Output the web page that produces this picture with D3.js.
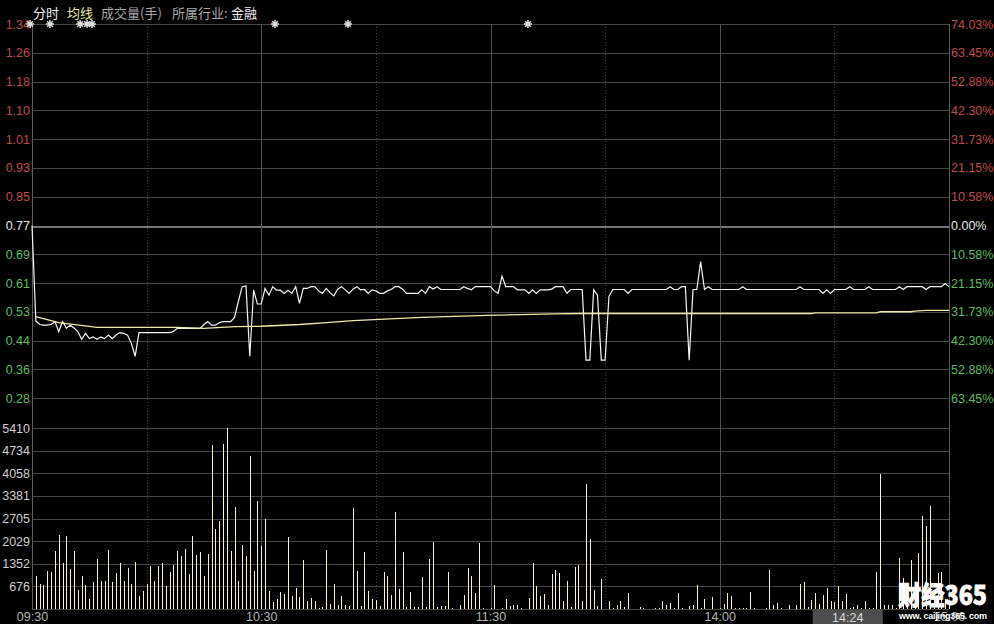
<!DOCTYPE html>
<html><head><meta charset="utf-8">
<script src="https://cdn.jsdelivr.net/npm/d3@7"></script>
<style>html,body{margin:0;padding:0;background:#000;overflow:hidden}</style>
</head><body>
<svg id="c" width="994" height="624"></svg>
<script>
// ---------- data ----------
const preClose = 0.77;
const priceTickLabels = ["1.34","1.26","1.18","1.10","1.01","0.93","0.85","0.77","0.69","0.61","0.53","0.44","0.36","0.28"];
const pctTicks = [74.03,63.45,52.88,42.30,31.73,21.15,10.58,0,-10.58,-21.15,-31.73,-42.30,-52.88,-63.45];
const pctTickLabels = ["74.03%","63.45%","52.88%","42.30%","31.73%","21.15%","10.58%","0.00%","10.58%","21.15%","31.73%","42.30%","52.88%","63.45%"];
const pctRange = 74.03;
const volTicks = [676,1352,2029,2705,3381,4058,4734,5410];
const volMax = 5410;
const timeTickMinutes = [0,60,120,180,240];
const timeTickLabels = ["09:30","10:30","11:30","14:00","15:00"];
const halfHourMinutes = [30,90,150,210];
const cursorLabel = "14:24";
const cursorMinute = 213.5;
const headerItems = ["分时","均线","成交量(手)","所属行业:","金融"];
const markerMinutes = [-0.5,4.7,12.6,14.4,15.7,63.6,82.7,129.8];

const price = [
0.77,0.50,0.49,0.488,0.488,0.49,0.498,0.47,0.498,0.48,
0.488,0.48,0.47,0.448,0.465,0.45,0.455,0.448,0.455,0.45,
0.46,0.45,0.46,0.467,0.465,0.46,0.437,0.40,0.467,0.467,
0.467,0.467,0.467,0.467,0.467,0.467,0.467,0.47,0.479,0.479,
0.479,0.479,0.479,0.479,0.479,0.49,0.498,0.488,0.488,0.495,
0.498,0.498,0.498,0.51,0.555,0.597,0.599,0.40,0.587,0.548,
0.548,0.592,0.573,0.597,0.587,0.587,0.578,0.587,0.578,0.597,
0.55,0.592,0.592,0.597,0.597,0.585,0.578,0.592,0.58,0.571,
0.59,0.597,0.588,0.578,0.59,0.597,0.588,0.589,0.578,0.588,
0.585,0.578,0.578,0.585,0.589,0.597,0.597,0.59,0.578,0.578,
0.578,0.578,0.588,0.578,0.597,0.59,0.597,0.589,0.589,0.589,
0.589,0.589,0.589,0.597,0.592,0.588,0.597,0.597,0.597,0.597,
0.597,0.585,0.578,0.627,0.597,0.597,0.597,0.588,0.588,0.588,
0.578,0.588,0.578,0.588,0.588,0.588,0.59,0.597,0.597,0.597,
0.578,0.589,0.589,0.589,0.589,0.389,0.389,0.588,0.573,0.389,
0.389,0.569,0.589,0.589,0.589,0.589,0.578,0.589,0.589,0.589,
0.589,0.589,0.589,0.589,0.589,0.589,0.589,0.597,0.589,0.589,
0.597,0.597,0.389,0.589,0.589,0.668,0.589,0.597,0.589,0.589,
0.589,0.589,0.589,0.589,0.589,0.589,0.597,0.589,0.589,0.589,
0.589,0.589,0.589,0.589,0.589,0.589,0.589,0.589,0.589,0.589,
0.589,0.597,0.589,0.589,0.589,0.589,0.589,0.578,0.588,0.578,
0.589,0.589,0.589,0.589,0.597,0.589,0.589,0.589,0.589,0.597,
0.589,0.589,0.589,0.589,0.589,0.589,0.589,0.597,0.589,0.597,
0.597,0.597,0.597,0.597,0.589,0.597,0.597,0.597,0.597,0.606,
0.597];

const avgMinutes = [1,7,17,38,45,53,60,70,78,84,102,119,137,144,162,204,205,221,222,230,231,234,240];
const avgPrice  = [0.512,0.495,0.482,0.482,0.479,0.484,0.485,0.490,0.496,0.501,0.510,0.516,0.520,0.521,0.521,0.521,0.523,0.523,0.526,0.526,0.528,0.530,0.530];

const volume = [
0,976,757,707,1146,1096,1743,2222,1375,2172,
1205,1743,578,976,707,309,797,1504,847,847,
1773,797,1066,1375,847,1235,737,1415,379,548,
737,1275,827,1275,1365,677,1116,1305,1743,1574,
1803,1056,2192,1604,1713,976,1654,4912,2401,2620,
4942,5410,1743,3049,847,1923,1594,4583,1146,3238,
1873,2700,548,199,309,508,448,2142,379,628,
349,1475,229,329,249,30,60,1773,159,757,
130,379,130,100,3019,1146,100,1713,548,309,
279,100,1106,996,428,2899,608,1713,70,518,
50,70,946,50,1504,2002,50,100,100,1106,
30,0,130,428,1235,996,478,1982,30,0,
30,707,0,30,309,80,130,130,30,0,
329,1375,677,379,458,110,1056,1176,1086,249,
847,50,1265,1305,229,3746,2102,578,80,907,
0,249,30,130,229,50,478,0,0,60,
30,0,0,20,30,229,110,189,30,488,
30,0,100,130,727,30,309,0,369,0,
30,159,488,379,30,20,20,20,518,30,
0,0,20,1176,110,169,30,0,130,0,
130,757,817,50,279,488,149,428,638,229,
199,697,249,438,30,50,130,30,249,30,
30,1096,4045,130,130,130,30,1514,927,200,
1475,500,1664,2770,2471,3089,400,1086,1116,300,
200];

// ---------- drawing ----------
const W = 994, H = 624;
const left = 32, right = 949;
const svg = d3.select("#c");
svg.append("rect").attr("width", W).attr("height", H).attr("fill", "#000");

const x = d3.scaleLinear().domain([0, 240]).range([left, right]);
const yP = d3.scaleLinear().domain([preClose * (1 - pctRange / 100), preClose * (1 + pctRange / 100)]).range([427, 24]);
const yV = d3.scaleLinear().domain([0, volMax]).range([609, 428]);
const pctToPrice = p => preClose * (1 + p / 100);

const numFont = "'Liberation Sans', Arial, sans-serif";
const cjkFont = "'Noto Sans CJK SC', 'Liberation Sans', sans-serif";
const RED = "#c04848", GREEN = "#5cbf5c";
const GRID = "#464646";

// grid: horizontal price lines
const grid = svg.append("g").attr("shape-rendering", "crispEdges");
pctTicks.forEach(p => {
  const yy = Math.round(yP(pctToPrice(p))) + 0.5;
  grid.append("line").attr("x1", left).attr("x2", right).attr("y1", yy).attr("y2", yy)
    .attr("stroke", p === 0 ? "#757575" : GRID).attr("stroke-width", p === 0 ? 2 : 1);
});
// volume lines
[0].concat(volTicks).forEach(v => {
  const yy = Math.round(yV(v)) + 0.5;
  grid.append("line").attr("x1", left).attr("x2", right).attr("y1", yy).attr("y2", yy)
    .attr("stroke", GRID).attr("stroke-width", 1);
});
// vertical lines
timeTickMinutes.forEach(m => {
  const xx = Math.round(x(m)) + 0.5;
  grid.append("line").attr("x1", xx).attr("x2", xx).attr("y1", 24).attr("y2", 609)
    .attr("stroke", (m === 0 || m === 240) ? "#5e5e5e" : "#525252").attr("stroke-width", 1);
});
halfHourMinutes.forEach(m => {
  const xx = Math.round(x(m)) + 0.5;
  grid.append("line").attr("x1", xx).attr("x2", xx).attr("y1", 24).attr("y2", 609)
    .attr("stroke", "#3e3e3e").attr("stroke-width", 1).attr("stroke-dasharray", "1,2");
});

// volume bars
svg.append("g").attr("shape-rendering", "crispEdges").selectAll("rect").data(volume).join("rect")
  .attr("x", (d, i) => Math.round(x(i)))
  .attr("width", 1)
  .attr("y", d => Math.round(yV(d)))
  .attr("height", d => Math.max(0, Math.round(yV(0)) - Math.round(yV(d))))
  .attr("fill", "#f6f4c8");

// price and average lines
svg.append("path").datum(price)
  .attr("d", d3.line().x((d, i) => x(i)).y(d => yP(d)))
  .attr("fill", "none").attr("stroke", "#f6f6f6").attr("stroke-width", 1.2);
svg.append("path").datum(avgMinutes.map((m, i) => [m, avgPrice[i]]))
  .attr("d", d3.line().x(d => x(d[0])).y(d => yP(d[1])))
  .attr("fill", "none").attr("stroke", "#ecea a4".replace(" ", "")).attr("stroke-width", 1.3);

// left price axis
const axL = svg.append("g").attr("transform", `translate(${left},0)`)
  .call(d3.axisLeft(yP).tickValues(pctTicks.map(pctToPrice)).tickFormat((d, i) => priceTickLabels[i]).tickSize(0).tickPadding(2));
axL.select(".domain").remove();
axL.selectAll("text").attr("font-family", numFont).attr("font-size", 12.5)
  .attr("fill", (d, i) => pctTicks[i] > 0 ? RED : (pctTicks[i] === 0 ? "#e6e6e6" : GREEN));

// right pct axis
const axR = svg.append("g").attr("transform", `translate(${right},0)`)
  .call(d3.axisRight(yP).tickValues(pctTicks.map(pctToPrice)).tickFormat((d, i) => pctTickLabels[i]).tickSize(0).tickPadding(2));
axR.select(".domain").remove();
axR.selectAll("text").attr("font-family", numFont).attr("font-size", 12.5)
  .attr("fill", (d, i) => pctTicks[i] > 0 ? RED : (pctTicks[i] === 0 ? "#e6e6e6" : GREEN));

// volume axis
const axV = svg.append("g").attr("transform", `translate(${left},0)`)
  .call(d3.axisLeft(yV).tickValues(volTicks).tickFormat(d3.format("d")).tickSize(0).tickPadding(2));
axV.select(".domain").remove();
axV.selectAll("text").attr("font-family", numFont).attr("font-size", 12.5).attr("fill", "#d2cad2");

// time axis
const axT = svg.append("g").attr("transform", `translate(0,609)`)
  .call(d3.axisBottom(x).tickValues(timeTickMinutes).tickFormat((d, i) => timeTickLabels[i]).tickSize(0).tickPadding(3));
axT.select(".domain").remove();
axT.selectAll("text").attr("font-family", numFont).attr("font-size", 12.5).attr("fill", "#b4b4b4");

// cursor time box
const cx = x(cursorMinute);
svg.append("rect").attr("x", cx - 35).attr("y", 610).attr("width", 70).attr("height", 14).attr("fill", "#4e4e4e");
svg.append("text").attr("x", cx).attr("y", 622).attr("text-anchor", "middle")
  .attr("font-family", numFont).attr("font-size", 12.5).attr("fill", "#d8d8d8").text(cursorLabel);

// markers (8-armed star)
const star = {
  draw(ctx, size) {
    const r = Math.sqrt(size) / 2;
    for (let k = 0; k < 4; k++) {
      const a = k * Math.PI / 4;
      ctx.moveTo(-r * Math.cos(a), -r * Math.sin(a));
      ctx.lineTo(r * Math.cos(a), r * Math.sin(a));
    }
  }
};
svg.append("g").selectAll("path").data(markerMinutes).join("path")
  .attr("transform", d => `translate(${x(d)},24)`)
  .attr("d", d3.symbol(star, 64))
  .attr("fill", "none").attr("stroke", "#dcdcdc").attr("stroke-width", 1.5);
svg.append("g").selectAll("circle").data(markerMinutes).join("circle")
  .attr("cx", d => x(d)).attr("cy", 24).attr("r", 1.8).attr("fill", "#dcdcdc");

// header
const headerX = [33, 67, 101, 172, 231];
const headerColors = ["#eeeeee", "#e8e6a0", "#a8a8a8", "#a8a8a8", "#eeeeee"];
svg.append("g").selectAll("text").data(headerItems).join("text")
  .attr("x", (d, i) => headerX[i]).attr("y", 18)
  .attr("font-family", cjkFont).attr("font-size", 13)
  .attr("fill", (d, i) => headerColors[i]).text(d => d);

// watermark
svg.append("text").attr("x", 898).attr("y", 605)
  .attr("font-family", cjkFont).attr("font-size", 26).attr("font-weight", 900)
  .attr("fill", "#ffffff").attr("stroke", "#ffffff").attr("stroke-width", 0.8)
  .attr("textLength", 89).attr("lengthAdjust", "spacingAndGlyphs").text("财经365");
svg.append("text").attr("x", 899).attr("y", 619)
  .attr("font-family", numFont).attr("font-size", 9).attr("font-weight", "bold")
  .attr("fill", "#ffffff").attr("textLength", 88).attr("lengthAdjust", "spacing").text("www. caijing365. com");
</script>
</body></html>
